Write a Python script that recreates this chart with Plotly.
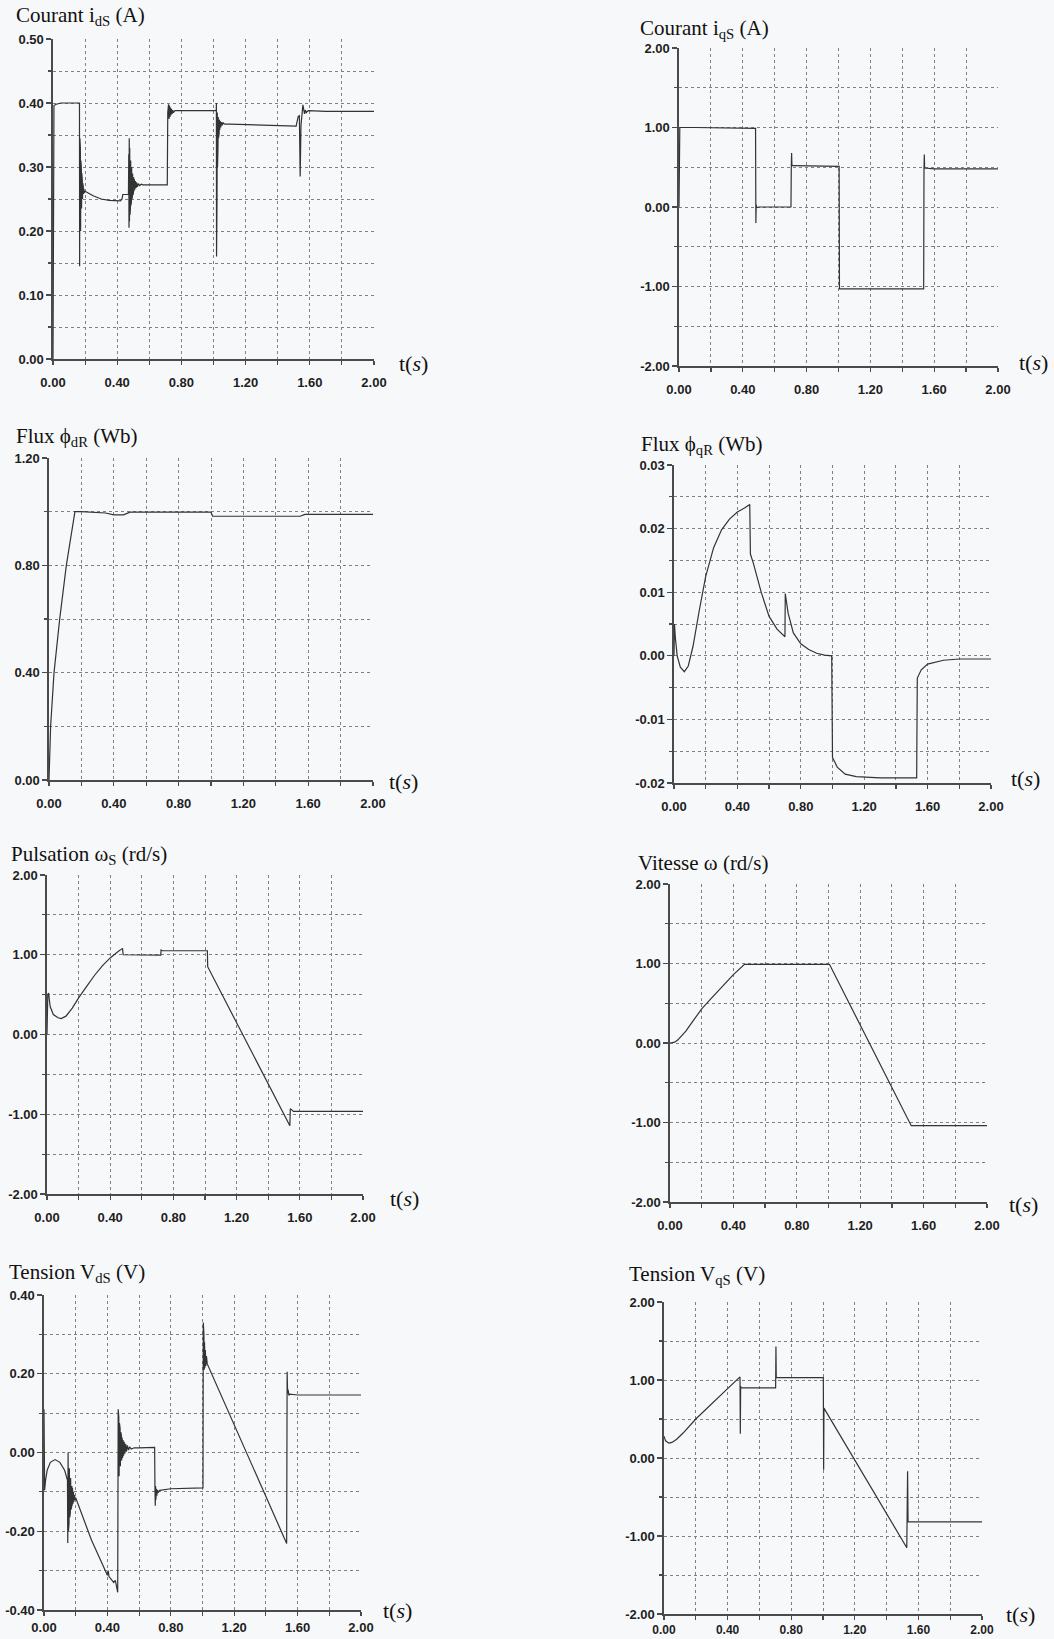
import plotly.graph_objects as go

# ---------------- data ----------------
T_IDS = [0, 0.003, 0.006, 0.02, 0.05, 0.1, 0.163,
         0.165, 0.166, 0.1675, 0.169, 0.1705, 0.172, 0.1735, 0.175, 0.1765, 0.178, 0.1795, 0.181, 0.1825,
         0.184, 0.1855, 0.187, 0.1885, 0.19, 0.192, 0.195, 0.2,
         0.25, 0.3, 0.35, 0.42, 0.43, 0.435, 0.465,
         0.47, 0.472, 0.4735, 0.475, 0.4765, 0.478, 0.4795, 0.481, 0.4825, 0.484, 0.4855, 0.487, 0.4885,
         0.49, 0.4915, 0.493, 0.4945, 0.496, 0.4975, 0.499, 0.501, 0.503, 0.505, 0.507, 0.51, 0.513,
         0.517, 0.521, 0.526, 0.532, 0.54, 0.55, 0.56,
         0.712, 0.715, 0.72, 0.723, 0.726, 0.729, 0.732, 0.735, 0.738, 0.742, 0.746, 0.75, 0.76, 0.8, 1.0, 1.017,
         1.018, 1.019, 1.0205, 1.022, 1.0235, 1.025, 1.0265, 1.028, 1.0295, 1.031, 1.033, 1.035, 1.037,
         1.039, 1.042, 1.045, 1.05, 1.055, 1.06, 1.07, 1.1, 1.3, 1.515,
         1.52, 1.528, 1.535, 1.54, 1.545, 1.55, 1.557, 1.562, 1.567, 1.572, 1.578, 1.59, 1.7, 2.0]
Y_IDS = [0, 0.395, 0.396, 0.398, 0.400, 0.400, 0.400,
         0.40, 0.145, 0.345, 0.17, 0.33, 0.20, 0.31, 0.22, 0.30, 0.235, 0.29, 0.245, 0.28,
         0.25, 0.275, 0.255, 0.27, 0.258, 0.266, 0.26, 0.262,
         0.255, 0.25, 0.248, 0.247, 0.25, 0.257, 0.257,
         0.257, 0.32, 0.205, 0.345, 0.215, 0.33, 0.225, 0.32, 0.235, 0.31, 0.24, 0.305, 0.245,
         0.30, 0.25, 0.295, 0.253, 0.29, 0.256, 0.287, 0.259, 0.284, 0.262, 0.281, 0.265, 0.278,
         0.267, 0.276, 0.269, 0.274, 0.271, 0.273, 0.272,
         0.272, 0.385, 0.398, 0.375, 0.396, 0.378, 0.393, 0.381, 0.391, 0.383, 0.389, 0.385, 0.388, 0.388, 0.388, 0.388,
         0.40, 0.16, 0.39, 0.25, 0.385, 0.30, 0.38, 0.33, 0.378, 0.345, 0.376, 0.352, 0.374,
         0.358, 0.372, 0.362, 0.370, 0.365, 0.369, 0.367, 0.367, 0.365, 0.364,
         0.37, 0.379, 0.38, 0.285, 0.365, 0.385, 0.397, 0.39, 0.383, 0.389, 0.385, 0.388, 0.387, 0.387]

T_IQS = [0, 0.005, 0.1, 0.478, 0.48, 0.482, 0.484, 0.487, 0.5, 0.702, 0.704, 0.706, 0.708, 0.72,
         1.004, 1.006, 1.3, 1.534, 1.536, 1.538, 1.54, 1.6, 2.0]
Y_IQS = [0, 1.0, 1.0, 0.99, 0.99, -0.2, 0.03, -0.01, 0.0, 0.0, 0.5, 0.68, 0.52, 0.52,
         0.51, -1.03, -1.03, -1.03, 0.47, 0.66, 0.49, 0.48, 0.48]

T_PHID = [0, 0.01, 0.031, 0.066, 0.107, 0.14, 0.16, 0.2, 0.35, 0.4, 0.46, 0.5, 1.0, 1.01, 1.55, 1.58, 2.0]
Y_PHID = [0, 0.2, 0.4, 0.6, 0.8, 0.93, 1.0, 1.0, 0.995, 0.988, 0.988, 0.998, 0.998, 0.983, 0.983, 0.99, 0.99]

T_PHIQ = [0, 0.003, 0.008, 0.02, 0.04, 0.065, 0.09, 0.12, 0.16, 0.2, 0.25, 0.3, 0.35, 0.4, 0.45, 0.478,
          0.482, 0.5, 0.55, 0.6, 0.65, 0.7, 0.702, 0.72, 0.753, 0.8, 0.85, 0.9, 0.95, 0.995,
          1.0, 1.03, 1.08, 1.15, 1.3, 1.531, 1.535, 1.56, 1.6, 1.7, 1.8, 2.0]
Y_PHIQ = [0, 0.005, 0.003, 0.0, -0.0018, -0.0025, -0.0016, 0.0015, 0.0072, 0.0125, 0.017, 0.0198, 0.0215,
          0.0226, 0.0233, 0.0238,
          0.016, 0.0146, 0.0100, 0.0062, 0.0042, 0.003, 0.0098, 0.0067, 0.0036, 0.0019, 0.001, 0.0004, 0.0001, 0.0,
          -0.016, -0.0175, -0.0186, -0.019, -0.0192, -0.0192, -0.0035, -0.0022, -0.0013, -0.0007, -0.0005, -0.0005]

T_WS = [0, 0.005, 0.01, 0.02, 0.04, 0.07, 0.09, 0.12, 0.16, 0.2, 0.25, 0.3, 0.35, 0.4, 0.45, 0.478,
        0.482, 0.6, 0.72, 0.722, 0.73, 1.015, 1.017, 1.537, 1.54, 1.56, 2.0]
Y_WS = [0, 0.5, 0.52, 0.35, 0.25, 0.21, 0.2, 0.23, 0.33, 0.46, 0.6, 0.74, 0.86, 0.96, 1.04, 1.08,
        1.0, 0.995, 0.995, 1.06, 1.05, 1.05, 0.85, -1.145, -0.93, -0.965, -0.965]

T_W = [0, 0.03, 0.05, 0.1, 0.15, 0.2, 0.25, 0.3, 0.35, 0.4, 0.47, 0.5, 1.006, 1.522, 2.0]
Y_W = [0, 0.01, 0.04, 0.15, 0.29, 0.43, 0.54, 0.65, 0.76, 0.86, 0.99, 0.99, 0.99, -1.04, -1.04]

T_VDS = [0, 0.004, 0.01, 0.02, 0.04, 0.07, 0.1, 0.13, 0.148,
         0.150, 0.152, 0.154, 0.156, 0.158, 0.160, 0.162, 0.164, 0.166, 0.168, 0.170, 0.172, 0.174, 0.176,
         0.178, 0.18, 0.183, 0.186, 0.189, 0.192, 0.196, 0.2,
         0.3, 0.4, 0.405, 0.41, 0.44, 0.45, 0.465,
         0.468, 0.470, 0.472, 0.474, 0.476, 0.478, 0.480, 0.482, 0.484, 0.486, 0.488, 0.490, 0.493, 0.496,
         0.499, 0.502, 0.506, 0.51, 0.515, 0.52, 0.526, 0.533, 0.54, 0.55, 0.57, 0.6, 0.698,
         0.700, 0.702, 0.704, 0.706, 0.709, 0.712, 0.716, 0.72, 0.73, 0.8, 1.003,
         1.005, 1.007, 1.009, 1.011, 1.013, 1.015, 1.018, 1.021, 1.025, 1.03,
         1.531, 1.534, 1.537, 1.54, 1.545, 1.55, 1.6, 2.0]
Y_VDS = [0.11, -0.096, -0.07, -0.045, -0.025, -0.018, -0.025, -0.045, -0.07,
         -0.23, 0.0, -0.2, -0.02, -0.18, -0.04, -0.165, -0.055, -0.155, -0.065, -0.145, -0.075, -0.14, -0.085,
         -0.135, -0.09, -0.13, -0.1, -0.125, -0.108, -0.12, -0.115,
         -0.223, -0.312, -0.3, -0.315, -0.33, -0.325, -0.355,
         0.11, -0.08, 0.09, -0.06, 0.075, -0.045, 0.062, -0.035, 0.052, -0.027, 0.045, -0.02, 0.038, -0.014,
         0.032, -0.008, 0.027, -0.003, 0.022, 0.002, 0.018, 0.006, 0.014, 0.009, 0.012, 0.012, 0.013,
         -0.09, -0.135, -0.085, -0.12, -0.092, -0.11, -0.095, -0.102, -0.096, -0.092, -0.09,
         0.33, 0.2, 0.3, 0.21, 0.28, 0.215, 0.26, 0.22, 0.245, 0.225,
         -0.231, 0.205, 0.15, 0.16, 0.145, 0.148, 0.146, 0.146]

T_VQS = [0, 0.01, 0.03, 0.05, 0.08, 0.12, 0.2, 0.3, 0.4, 0.478, 0.48, 0.482, 0.485, 0.702, 0.704, 0.706,
         0.72, 1.002, 1.004, 1.006, 1.527, 1.532, 1.535, 2.0]
Y_VQS = [0.28, 0.22, 0.19, 0.2, 0.24, 0.32, 0.5, 0.7, 0.89, 1.04, 0.31, 0.92, 0.9, 0.9, 1.43, 1.03,
         1.03, 1.03, -0.15, 0.64, -1.15, -0.17, -0.82, -0.82]

X_TICKS = [0.0, 0.4, 0.8, 1.2, 1.6, 2.0]
X_TICK_TEXT = ["0.00", "0.40", "0.80", "1.20", "1.60", "2.00"]

TITLES = ["Courant i<sub>dS</sub> (A)", "Courant i<sub>qS</sub> (A)",
          "Flux \u03d5<sub>dR</sub> (Wb)", "Flux \u03d5<sub>qR</sub> (Wb)",
          "Pulsation \u03c9<sub>S</sub> (rd/s)", "Vitesse \u03c9 (rd/s)",
          "Tension V<sub>dS</sub> (V)", "Tension V<sub>qS</sub> (V)"]

# y range, major label step, grid step for each panel
Y_RANGES = [(0.0, 0.5), (-2.0, 2.0), (0.0, 1.2), (-0.02, 0.03),
            (-2.0, 2.0), (-2.0, 2.0), (-0.4, 0.4), (-2.0, 2.0)]
Y_MAJOR = [0.1, 1.0, 0.4, 0.01, 1.0, 1.0, 0.2, 1.0]
Y_MINOR = [0.05, 0.5, 0.2, 0.005, 0.5, 0.5, 0.1, 0.5]

SERIES = [(T_IDS, Y_IDS), (T_IQS, Y_IQS), (T_PHID, Y_PHID), (T_PHIQ, Y_PHIQ),
          (T_WS, Y_WS), (T_W, Y_W), (T_VDS, Y_VDS), (T_VQS, Y_VQS)]

# ---------------- layout (pixel boxes in the 1054x1639 page) ----------------
W, H = 1054, 1639
BOXES = [(53, 374, 39, 359), (679, 998, 48, 366),
         (49, 373, 458, 780), (674, 991, 465, 783),
         (47, 363, 875, 1194), (670, 987, 884, 1202),
         (44, 361, 1295, 1610), (664, 982, 1302, 1614)]
TITLE_POS = [(15, 16), (639, 29), (15, 437), (640, 445), (10, 855), (637, 863), (8, 1273), (628, 1275)]
TS_POS = [(398, 363), (1018, 362), (388, 781), (1010, 778), (389, 1198), (1008, 1204), (382, 1610), (1005, 1614)]
X_STANDOFF = [7, 7, 7, 7, 7, 7, 1, 0]
X_FONT_SIZE = [13, 13, 13, 13, 13, 13, 13, 12]

LINE_C = "#333333"
GRID_C = "#808080"
AXIS_C = "#4a4a4a"


def tick_font(size):
    return dict(family="Liberation Sans", size=size, color="#1e1e1e", weight="bold")


def steps(lo, hi, step):
    n = int(round((hi - lo) / step))
    return [round(lo + i * step, 6) for i in range(n + 1)]


fig = go.Figure()
layout = dict(width=W, height=H, autosize=False, margin=dict(l=0, r=0, t=0, b=0, pad=0, autoexpand=False),
              paper_bgcolor="#f7f8fa", plot_bgcolor="rgba(0,0,0,0)", showlegend=False,
              annotations=[], shapes=[])

for i in range(8):
    k = "" if i == 0 else str(i + 1)
    x0, x1, y0, y1 = BOXES[i]
    t, y = SERIES[i]
    fig.add_trace(go.Scatter(x=t, y=y, mode="lines", xaxis="x" + k, yaxis="y" + k,
                             line=dict(color=LINE_C, width=1.2), hoverinfo="skip"))
    lo, hi = Y_RANGES[i]
    yv = steps(lo, hi, Y_MAJOR[i])
    layout["xaxis" + k] = dict(
        domain=[x0 / W, x1 / W], range=[0, 2], anchor="y" + k, automargin=False,
        tickmode="array", tickvals=X_TICKS, ticktext=X_TICK_TEXT,
        ticks="outside", ticklen=4, tickcolor=AXIS_C, tickwidth=1.2,
        showline=True, linecolor=AXIS_C, linewidth=1.6,
        showgrid=True, gridcolor=GRID_C, griddash="dot", gridwidth=1,
        zeroline=False, tickfont=tick_font(X_FONT_SIZE[i]), ticklabelstandoff=X_STANDOFF[i],
        minor=dict(tickmode="array", tickvals=steps(0, 2, 0.2), ticks="outside", ticklen=4,
                   tickcolor=AXIS_C, showgrid=True, gridcolor=GRID_C, griddash="dot", gridwidth=1),
        fixedrange=True)
    layout["yaxis" + k] = dict(
        domain=[1 - y1 / H, 1 - y0 / H], range=[lo, hi], anchor="x" + k, automargin=False,
        tickmode="array", tickvals=yv, ticktext=[f"{v:.2f}" for v in yv],
        ticks="outside", ticklen=5, tickcolor=AXIS_C, tickwidth=1.2,
        showline=True, linecolor=AXIS_C, linewidth=1.6,
        showgrid=True, gridcolor=GRID_C, griddash="dot", gridwidth=1,
        zeroline=False, tickfont=tick_font(13),
        minor=dict(tickmode="array", tickvals=steps(lo, hi, Y_MINOR[i]), ticks="outside", ticklen=3,
                   tickcolor=AXIS_C, showgrid=True, gridcolor=GRID_C, griddash="dot", gridwidth=1),
        fixedrange=True)
    tx, ty = TITLE_POS[i]
    layout["annotations"].append(dict(
        text=TITLES[i], xref="paper", yref="paper", x=tx / W, y=1 - ty / H,
        xanchor="left", yanchor="middle", showarrow=False, borderpad=0,
        font=dict(family="Liberation Serif", size=21, color="#111111")))
    sx, sy = TS_POS[i]
    layout["annotations"].append(dict(
        text="t(<i>s</i>)", xref="paper", yref="paper", x=sx / W, y=1 - sy / H,
        xanchor="left", yanchor="middle", showarrow=False, borderpad=0,
        font=dict(family="Liberation Serif", size=22, color="#111111")))

fig.update_layout(**layout)
fig.write_html("out.html", config={"displayModeBar": False, "staticPlot": True},
               post_script="document.body.style.margin='0';document.body.style.overflow='hidden';")
